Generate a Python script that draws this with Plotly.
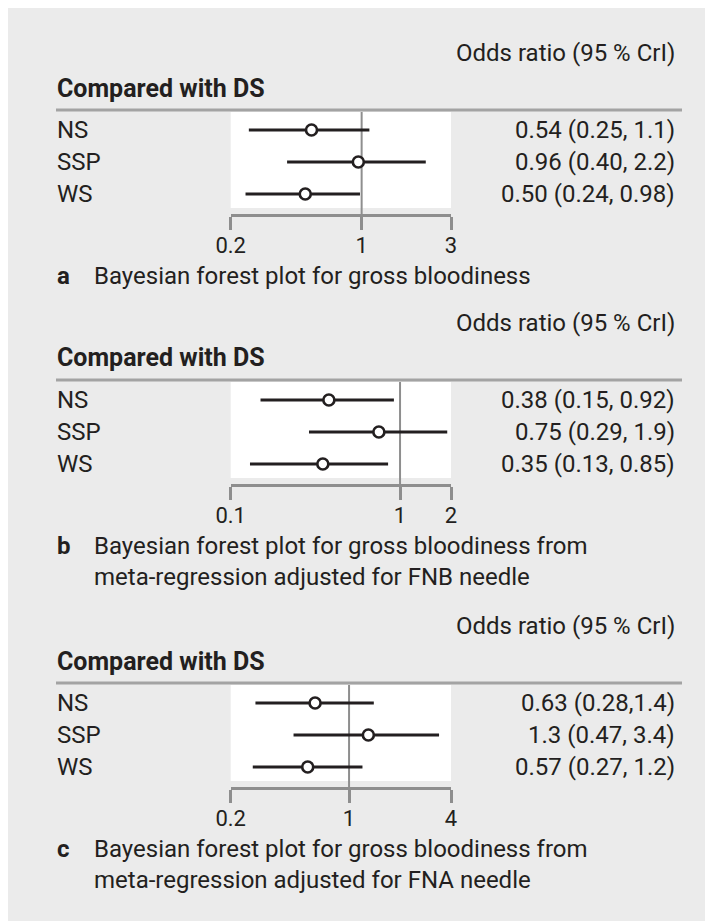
import math

import plotly.graph_objects as go

# ---- data -------------------------------------------------------------
ROWS = ["NS", "SSP", "WS"]

OR_A = [0.54, 0.96, 0.50]
LO_A = [0.25, 0.40, 0.24]
HI_A = [1.1, 2.2, 0.98]
TXT_A = ["0.54 (0.25, 1.1)", "0.96 (0.40, 2.2)", "0.50 (0.24, 0.98)"]
TICKS_A = [0.2, 1, 3]
TICKTEXT_A = ["0.2", "1", "3"]

OR_B = [0.38, 0.75, 0.35]
LO_B = [0.15, 0.29, 0.13]
HI_B = [0.92, 1.9, 0.85]
TXT_B = ["0.38 (0.15, 0.92)", "0.75 (0.29, 1.9)", "0.35 (0.13, 0.85)"]
TICKS_B = [0.1, 1, 2]
TICKTEXT_B = ["0.1", "1", "2"]

OR_C = [0.63, 1.3, 0.57]
LO_C = [0.28, 0.47, 0.27]
HI_C = [1.4, 3.4, 1.2]
TXT_C = ["0.63 (0.28,1.4)", "1.3 (0.47, 3.4)", "0.57 (0.27, 1.2)"]
TICKS_C = [0.2, 1, 4]
TICKTEXT_C = ["0.2", "1", "4"]

CAPTIONS = [
    ("a", "Bayesian forest plot for gross bloodiness"),
    ("b", "Bayesian forest plot for gross bloodiness from<br>meta-regression adjusted for FNB needle"),
    ("c", "Bayesian forest plot for gross bloodiness from<br>meta-regression adjusted for FNA needle"),
]

# ---- style ------------------------------------------------------------
W, H = 713, 921
BG = "#ebebeb"
INK = "#231f20"
GREY = "#8e8e8e"
FONT = "Roboto, Liberation Sans, sans-serif"
FS = 24          # regular text
FS_BOLD = 25     # "Compared with DS"
FS_TICK = 22

X_LEFT, X_RIGHT = 214, 441      # white panel in pixels
PANEL_H = 96
OFFSETS = [0, 270, 573]          # vertical offset of each block


def px(x):
    return x / W


def py(y):
    return 1 - y / H


fig = go.Figure()
annotations = []
shapes = []

panels = [
    (OR_A, LO_A, HI_A, TXT_A, TICKS_A, TICKTEXT_A),
    (OR_B, LO_B, HI_B, TXT_B, TICKS_B, TICKTEXT_B),
    (OR_C, LO_C, HI_C, TXT_C, TICKS_C, TICKTEXT_C),
]

for i, (est, lo, hi, txt, ticks, ticktext) in enumerate(panels):
    n = "" if i == 0 else str(i + 1)
    xa, ya = "x" + n, "y" + n
    off = OFFSETS[i]
    top, bottom = 104 + off, 104 + off + PANEL_H
    ypos = list(range(len(ROWS)))

    # CrI lines
    xs, ys = [], []
    for k in ypos:
        xs += [lo[k], hi[k], None]
        ys += [k, k, None]
    fig.add_trace(go.Scatter(
        x=xs, y=ys, mode="lines", xaxis=xa, yaxis=ya,
        line=dict(color=INK, width=3.2), showlegend=False, hoverinfo="skip",
    ))
    # point estimates
    fig.add_trace(go.Scatter(
        x=est, y=ypos, mode="markers", xaxis=xa, yaxis=ya, cliponaxis=False,
        marker=dict(symbol="circle", size=11, color="white",
                    line=dict(color=INK, width=2.6)),
        showlegend=False, text=ROWS,
    ))

    fig.update_layout({
        "xaxis" + n: dict(
            type="log", domain=[px(X_LEFT), px(X_RIGHT)],
            range=[math.log10(ticks[0]), math.log10(ticks[-1])],
            anchor="free", position=py(bottom + 7),
            showgrid=False, zeroline=False,
            showline=True, linecolor=GREY, linewidth=3,
            ticks="outside", ticklen=13, tickwidth=3, tickcolor=GREY,
            tickvals=ticks, ticktext=ticktext, ticklabelstandoff=-3,
            tickfont=dict(family=FONT, size=FS_TICK, color=INK),
        ),
        "yaxis" + n: dict(
            domain=[py(bottom), py(top)], anchor=xa,
            range=[2.4375, -0.5625], visible=False, fixedrange=True,
        ),
    })

    # white plotting panel + reference line at OR = 1
    shapes.append(dict(type="rect", xref="paper", yref="paper", layer="below",
                       x0=px(X_LEFT), x1=px(X_RIGHT), y0=py(bottom), y1=py(top),
                       fillcolor="white", line=dict(width=0)))
    shapes.append(dict(type="line", xref=xa, yref=ya + " domain", layer="below",
                       x0=1, x1=1, y0=-0.08, y1=1,
                       line=dict(color=GREY, width=2)))
    # grey rule under the header
    shapes.append(dict(type="line", xref="paper", yref="paper",
                       x0=px(34), x1=px(679), y0=py(102 + off), y1=py(102 + off),
                       line=dict(color="#a3a3a3", width=3)))

    annotations.append(dict(
        text="Odds ratio (95 % CrI)", xref="paper", yref="paper",
        x=px(674), y=py(45 + off), xanchor="right", yanchor="middle",
        showarrow=False, font=dict(family=FONT, size=FS, color=INK)))
    annotations.append(dict(
        text="<b>Compared with DS</b>", xref="paper", yref="paper",
        x=px(33), y=py(80 + off), xanchor="left", yanchor="middle",
        showarrow=False, font=dict(family=FONT, size=FS_BOLD, color=INK)))

    for k, name in enumerate(ROWS):
        annotations.append(dict(
            text=name, xref="paper", yref=ya, x=px(33), y=k,
            xanchor="left", yanchor="middle", showarrow=False,
            font=dict(family=FONT, size=FS, color=INK)))
        annotations.append(dict(
            text=txt[k], xref="paper", yref=ya, x=px(674), y=k,
            xanchor="right", yanchor="middle", showarrow=False,
            font=dict(family=FONT, size=FS, color=INK)))

    letter, caption = CAPTIONS[i]
    annotations.append(dict(
        text="<b>" + letter + "</b>", xref="paper", yref="paper",
        x=px(33), y=py(268 + off), xanchor="left", yanchor="middle",
        showarrow=False, font=dict(family=FONT, size=FS, color=INK)))
    n_lines = caption.count("<br>") + 1
    annotations.append(dict(
        text=caption, xref="paper", yref="paper", align="left",
        x=px(71), y=py(268 + off + 15 * (n_lines - 1)),
        xanchor="left", yanchor="middle", showarrow=False,
        font=dict(family=FONT, size=FS, color=INK)))

fig.update_layout(
    width=W, height=H,
    margin=dict(l=0, r=0, t=0, b=0),
    paper_bgcolor=BG, plot_bgcolor="rgba(0,0,0,0)",
    font=dict(family=FONT, color=INK),
    shapes=shapes, annotations=annotations,
    showlegend=False,
)

fig.write_html("out.html")
